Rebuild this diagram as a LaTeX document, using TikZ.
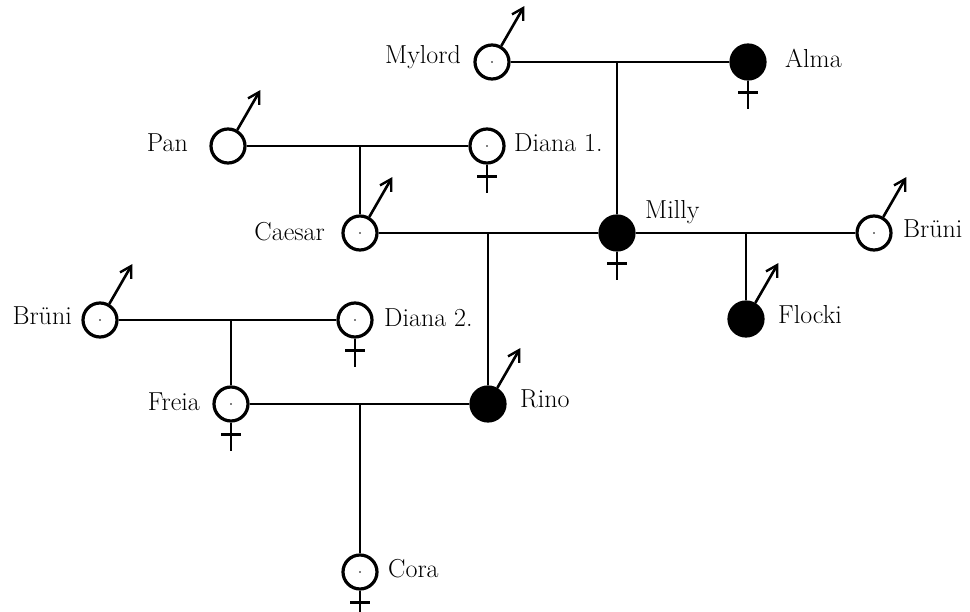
\documentclass[tikz,border=0pt]{standalone}
\usetikzlibrary{arrows.meta}
\begin{document}
\begin{tikzpicture}[x=1pt,y=-1pt,
  ind/.style={circle,draw,line width=3.2pt,minimum size=34pt,inner sep=0pt,fill=white},
  aff/.style={ind,fill=black},
  conn/.style={line width=2.6pt},
  sym/.style={line width=2.6pt},
  lbl/.style={font=\fontsize{26}{28}\selectfont,inner sep=0pt},
  cdot/.style={fill=black,circle,inner sep=0pt,minimum size=1.8pt}
]
\useasboundingbox (0,0) rectangle (970,612);
\newcommand{\malesym}[1]{\draw[sym,-{Straight Barb[length=11pt,width=13pt,line width=2.4pt]}] (#1.60) -- ++(60:46pt);}
\newcommand{\femsym}[1]{\draw[sym] (#1.south) -- ++(0,-28pt) (#1.south) ++(-10pt,-12pt) -- ++(20pt,0);}

% individuals
\node[ind] (mylord) at (492,62) {};
\node[aff] (alma) at (748,62) {};
\node[ind] (pan) at (228,146) {};
\node[ind] (diana1) at (487,146) {};
\node[ind] (caesar) at (360,233) {};
\node[aff] (milly) at (617,233) {};
\node[ind] (bruni1) at (874,233) {};
\node[aff] (flocki) at (746,319) {};
\node[ind] (bruni2) at (100,320) {};
\node[ind] (diana2) at (355,320) {};
\node[ind] (freia) at (231,404) {};
\node[aff] (rino) at (488,404) {};
\node[ind] (cora) at (360,572) {};

% centre marks
\foreach \n in {mylord,diana1,caesar,bruni1,bruni2,diana2,freia,cora}
  \node[cdot] at (\n.center) {};

% labels
\node[lbl,anchor=east] (lmylord) at (461,57) {Mylord};
\node[lbl,anchor=west] (lalma) at (785,58) {Alma};
\node[lbl,anchor=east] (lpan) at (188,143) {Pan};
\node[lbl,anchor=west] (ldiana1) at (514,143) {Diana 1.};
\node[lbl,anchor=east] (lcaesar) at (325,232) {Caesar};
\node[lbl,anchor=west] (lmilly) at (645,212) {Milly};
\node[lbl,anchor=west] (lbruni1) at (903,229) {Brüni};
\node[lbl,anchor=west] (lflocki) at (778,315) {Flocki};
\node[lbl,anchor=east] (lbruni2) at (72,316) {Brüni};
\node[lbl,anchor=west] (ldiana2) at (384,318) {Diana 2.};
\node[lbl,anchor=east] (lfreia) at (200,402) {Freia};
\node[lbl,anchor=west] (lrino) at (520,399) {Rino};
\node[lbl,anchor=west] (lcora) at (388,569) {Cora};

% mating lines
\draw[conn] (mylord) -- (alma);
\draw[conn] (pan) -- (diana1);
\draw[conn] (caesar) -- (milly);
\draw[conn] (milly) -- (bruni1);
\draw[conn] (bruni2) -- (diana2);
\draw[conn] (freia) -- (rino);

% descent lines (from the parents' line straight down to the child)
\coordinate (d1) at (milly.north |- mylord);
\coordinate (d2) at (caesar.north |- pan);
\coordinate (d3) at (rino.north |- caesar);
\coordinate (d4) at (flocki.north |- milly);
\coordinate (d5) at (freia.north |- bruni2);
\coordinate (d6) at (cora.north |- freia);
\draw[conn] (d1) -- (milly.north);
\draw[conn] (d2) -- (caesar.north);
\draw[conn] (d3) -- (rino.north);
\draw[conn] (d4) -- (flocki.north);
\draw[conn] (d5) -- (freia.north);
\draw[conn] (d6) -- (cora.north);

% sex symbols
\malesym{mylord}
\malesym{pan}
\malesym{caesar}
\malesym{bruni1}
\malesym{flocki}
\malesym{bruni2}
\malesym{rino}
\femsym{alma}
\femsym{diana1}
\femsym{milly}
\femsym{diana2}
\femsym{freia}
\femsym{cora}
\end{tikzpicture}
\end{document}
